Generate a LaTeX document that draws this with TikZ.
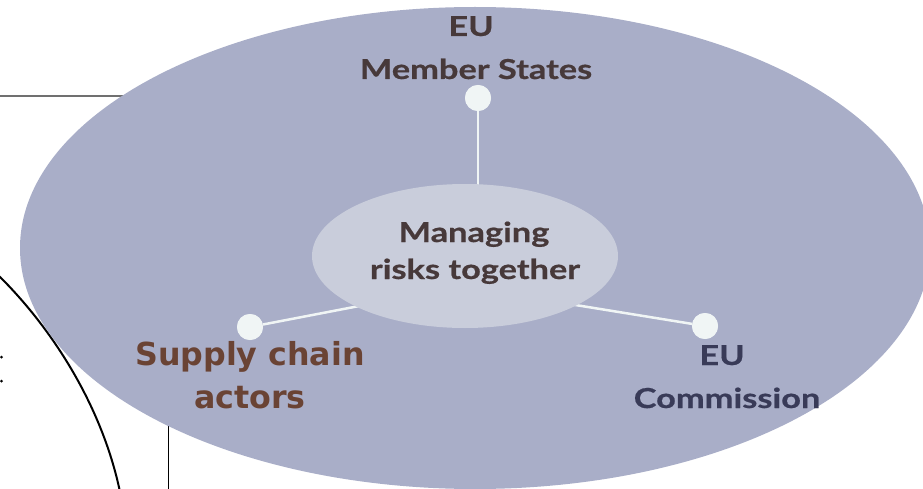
\documentclass[tikz,border=0pt]{standalone}
\usepackage{fontspec}
\setmainfont{Lato}
\newfontfamily\gillfont[FakeStretch=1.25,FakeBold=0.6]{Lato}
\newfontfamily\verdfont{DejaVu Sans}
\usetikzlibrary{shapes.geometric}
\definecolor{outerfill}{HTML}{A9AEC8}
\definecolor{innerfill}{HTML}{C9CDDB}
\definecolor{dotfill}{HTML}{F0F5F5}
\definecolor{toptext}{HTML}{47393A}
\definecolor{supplytext}{HTML}{6A4334}
\definecolor{commtext}{HTML}{393B58}
\definecolor{rulegrey}{HTML}{707070}
\begin{document}
\begin{tikzpicture}[x=1pt,y=-1pt,
  dotnode/.style={circle,fill=dotfill,inner sep=0pt,minimum size=26pt},
  link/.style={draw=dotfill,line width=2.5pt},
  gilllabel/.style={font=\gillfont\bfseries\fontsize{27.5}{33}\selectfont,anchor=base,inner sep=0pt},
  verdlabel/.style={font=\verdfont\bfseries\fontsize{31.7}{38}\selectfont,anchor=base,inner sep=0pt,text=supplytext}]
\useasboundingbox (0,0) rectangle (923,489);
\clip (0,0) rectangle (923,489);
% background fragments
\draw[rulegrey,line width=1.2pt] (0,96) -- (130,96);
\draw[black,line width=2pt] (-5,272) .. controls (55,330) and (103,410) .. (120,492);
\draw[black,line width=0.8pt] (168,420) -- (168,492);
\fill[black] (1.5,357) circle (1.5pt);
\fill[black] (1.5,381) circle (1.5pt);
% outer ellipse
\node[ellipse,fill=outerfill,inner sep=0pt,minimum width=910pt,minimum height=482pt] (outer) at (475,248) {};
% connectors
\node[dotnode] (dotT) at (478,98) {};
\node[dotnode] (dotL) at (250,327) {};
\node[dotnode] (dotR) at (705,326) {};
\coordinate (endT) at (478,215);
\coordinate (endL) at (380,302);
\coordinate (endR) at (557,302);
\draw[link] (dotT) -- (endT);
\draw[link] (dotL) -- (endL);
\draw[link] (dotR) -- (endR);
\node[ellipse,fill=innerfill,inner sep=0pt,minimum width=306pt,minimum height=144pt] (inner) at (465,256) {};
\node[dotnode] at (dotT) {};
\node[dotnode] at (dotL) {};
\node[dotnode] at (dotR) {};
% labels
\node[gilllabel,text=toptext] (ms1) at (471,36) {EU};
\node[gilllabel,text=toptext] (ms2) at (476,79) {Member States};
\node[gilllabel,text=toptext] (mr1) at (474,242) {Managing};
\node[gilllabel,text=toptext] (mr2) at (475,279) {risks together};
\node[verdlabel] (sc1) at (250,365) {Supply chain};
\node[verdlabel] (sc2) at (250,408) {actors};
\node[gilllabel,text=commtext] (ec1) at (722,365) {EU};
\node[gilllabel,text=commtext] (ec2) at (727,408) {Commission};
\end{tikzpicture}
\end{document}
